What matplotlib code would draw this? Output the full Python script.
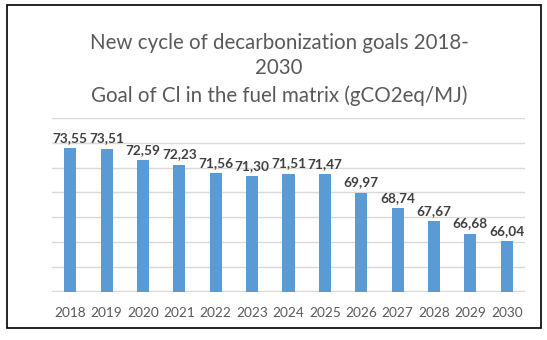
import matplotlib.pyplot as plt
from matplotlib.patches import Rectangle

plt.rcParams['font.family'] = ['Lato', 'DejaVu Sans']

# dados do gráfico
years = ['2018', '2019', '2020', '2021', '2022', '2023', '2024',
         '2025', '2026', '2027', '2028', '2029', '2030']
values = [73.55, 73.51, 72.59, 72.23, 71.56, 71.30, 71.51,
          71.47, 69.97, 68.74, 67.67, 66.68, 66.04]
labels = ['73,55', '73,51', '72,59', '72,23', '71,56', '71,30', '71,51',
          '71,47', '69,97', '68,74', '67,67', '66,68', '66,04']

fig = plt.figure(figsize=(5.47, 3.40), dpi=100)
ax = fig.add_axes([52 / 547, 1 - 291.5 / 340, 473 / 547, 173.5 / 340])

x = range(len(years))
ax.bar(x, values, width=0.33, color='#5b9bd5', zorder=3)
for i, v in enumerate(values):
    ax.text(i, v + 0.35, labels[i], ha='center', va='bottom', fontsize=9.8,
            fontweight='bold', color='#404040', zorder=4)

ax.set_ylim(62, 76)
ax.set_xlim(-0.5, len(years) - 0.5)
ax.set_yticks(range(62, 77, 2))
ax.set_yticklabels([])
ax.yaxis.grid(True, color='#d9d9d9', linewidth=1, zorder=0)
ax.set_xticks(list(x))
ax.set_xticklabels(years, fontsize=9.8, color='#595959')
ax.tick_params(axis='both', length=0)
ax.tick_params(axis='x', pad=11)
for s in ax.spines.values():
    s.set_visible(False)

fig.text(0.51, 1 - 43 / 340, 'New cycle of decarbonization goals 2018-',
         ha='center', va='center', fontsize=14.8, color='#595959')
fig.text(0.51, 1 - 68 / 340, '2030',
         ha='center', va='center', fontsize=14.8, color='#595959')
fig.text(0.51, 1 - 96 / 340, 'Goal of Cl in the fuel matrix (gCO2eq/MJ)',
         ha='center', va='center', fontsize=14.8, color='#595959')

# moldura externa
fig.patches.append(Rectangle((7 / 547, 1 - 328 / 340), 534 / 547, 323 / 340,
                             transform=fig.transFigure, fill=False,
                             edgecolor='black', linewidth=1.2))

fig.savefig('out.png', dpi=100)
